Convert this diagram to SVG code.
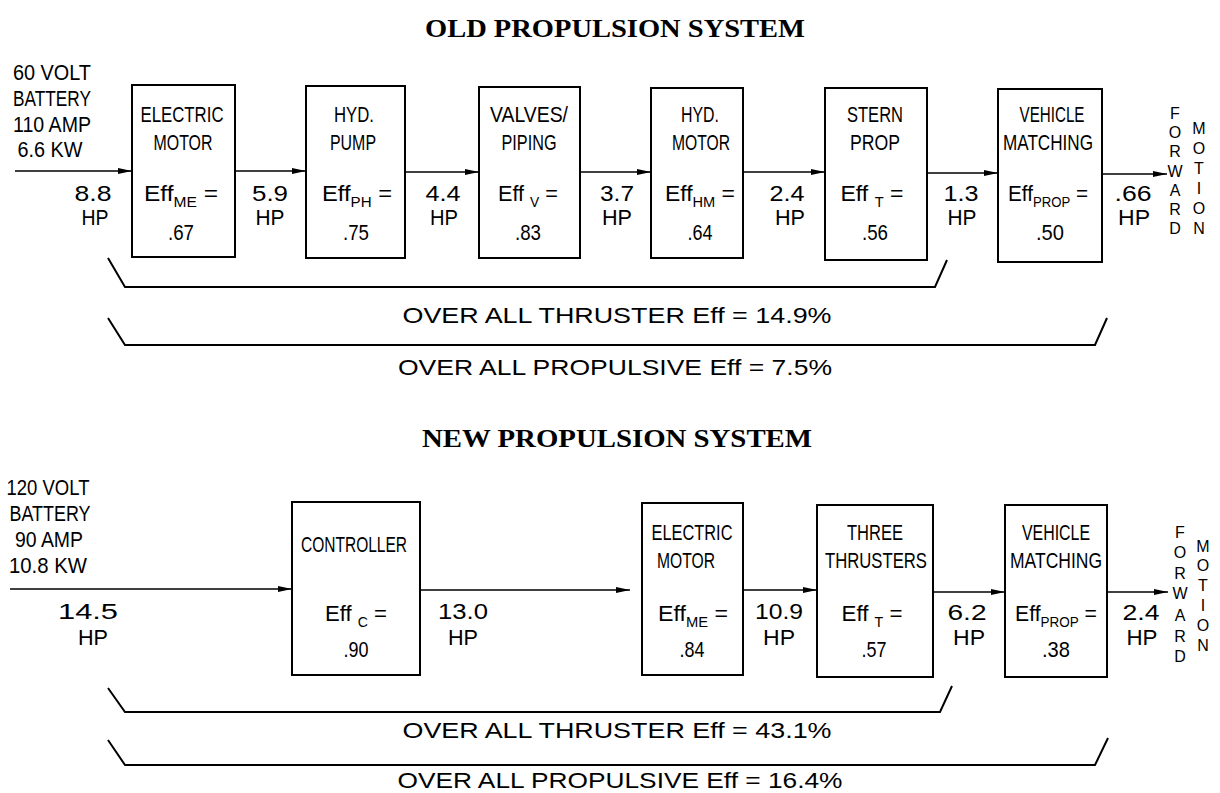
<svg xmlns="http://www.w3.org/2000/svg" width="1220" height="793" viewBox="0 0 1220 793">
<style>
.t{font-family:'Liberation Sans',Arial,sans-serif;font-size:22px;fill:#000;text-anchor:middle}
.s{font-size:14px}
.fm{font-family:'Liberation Sans',Arial,sans-serif;font-size:16px;fill:#000;text-anchor:middle}
.ttl{font-family:'Liberation Serif','Times New Roman',serif;font-weight:bold;font-size:25px;fill:#000;text-anchor:middle}
.box{fill:#fff;stroke:#000;stroke-width:2}
.ln{stroke:#000;stroke-width:1.6;fill:none}
.br{stroke:#000;stroke-width:2;fill:none}
</style>
<defs>
<marker id="ah" markerUnits="userSpaceOnUse" markerWidth="14" markerHeight="8" refX="14" refY="4" orient="auto">
<path d="M0,1 L14,4 L0,7 z" fill="#000"/>
</marker>
</defs>
<rect width="1220" height="793" fill="#fff"/>

<text class="ttl" x="615" y="37" textLength="380" lengthAdjust="spacingAndGlyphs">OLD PROPULSION SYSTEM</text>
<text class="ttl" x="617" y="447" textLength="390" lengthAdjust="spacingAndGlyphs">NEW PROPULSION SYSTEM</text>

<g id="connectors">
<line class="ln" x1="15" y1="171" x2="132" y2="171" marker-end="url(#ah)"/>
<line class="ln" x1="235" y1="171" x2="306" y2="171" marker-end="url(#ah)"/>
<line class="ln" x1="405" y1="172" x2="479" y2="172" marker-end="url(#ah)"/>
<line class="ln" x1="580" y1="172" x2="651" y2="172" marker-end="url(#ah)"/>
<line class="ln" x1="743" y1="172" x2="825" y2="172" marker-end="url(#ah)"/>
<line class="ln" x1="927" y1="173" x2="998" y2="173" marker-end="url(#ah)"/>
<line class="ln" x1="1102" y1="174" x2="1167" y2="174" marker-end="url(#ah)"/>
<line class="ln" x1="10" y1="589" x2="292" y2="589" marker-end="url(#ah)"/>
<line class="ln" x1="420" y1="590" x2="630" y2="590" marker-end="url(#ah)"/>
<line class="ln" x1="743" y1="590" x2="817" y2="590" marker-end="url(#ah)"/>
<line class="ln" x1="933" y1="592" x2="1005" y2="592" marker-end="url(#ah)"/>
<line class="ln" x1="1107" y1="592" x2="1168" y2="592" marker-end="url(#ah)"/>
</g>

<g id="old-battery">
<text class="t" x="52" y="80" textLength="78" lengthAdjust="spacingAndGlyphs">60 VOLT</text>
<text class="t" x="52" y="106" textLength="78" lengthAdjust="spacingAndGlyphs">BATTERY</text>
<text class="t" x="52" y="132" textLength="78" lengthAdjust="spacingAndGlyphs">110 AMP</text>
<text class="t" x="50" y="157" textLength="65" lengthAdjust="spacingAndGlyphs">6.6 KW</text>
<text class="t" x="93" y="201" textLength="37" lengthAdjust="spacingAndGlyphs">8.8</text>
<text class="t" x="95" y="225" textLength="27" lengthAdjust="spacingAndGlyphs">HP</text>
</g>

<g id="old-electric-motor">
<rect class="box" x="132" y="85" width="103" height="172"/>
<text class="t" x="182" y="122" textLength="83" lengthAdjust="spacingAndGlyphs">ELECTRIC</text>
<text class="t" x="183" y="150" textLength="59" lengthAdjust="spacingAndGlyphs">MOTOR</text>
<text class="t" x="181" y="201" textLength="74" lengthAdjust="spacingAndGlyphs">Eff<tspan class="s" dy="6">ME</tspan><tspan dy="-6"> =</tspan></text>
<text class="t" x="181" y="240" textLength="26" lengthAdjust="spacingAndGlyphs">.67</text>
</g>
<g id="old-hp-5-9">
<text class="t" x="270" y="201" textLength="36" lengthAdjust="spacingAndGlyphs">5.9</text>
<text class="t" x="270" y="225" textLength="29" lengthAdjust="spacingAndGlyphs">HP</text>
</g>

<g id="old-hyd-pump">
<rect class="box" x="306" y="86" width="99" height="172"/>
<text class="t" x="354" y="122" textLength="40" lengthAdjust="spacingAndGlyphs">HYD.</text>
<text class="t" x="353" y="150" textLength="46" lengthAdjust="spacingAndGlyphs">PUMP</text>
<text class="t" x="357" y="201" textLength="70" lengthAdjust="spacingAndGlyphs">Eff<tspan class="s" dy="6">PH</tspan><tspan dy="-6"> =</tspan></text>
<text class="t" x="356" y="240" textLength="26" lengthAdjust="spacingAndGlyphs">.75</text>
</g>
<g id="old-hp-4-4">
<text class="t" x="443" y="201" textLength="35" lengthAdjust="spacingAndGlyphs">4.4</text>
<text class="t" x="444" y="225" textLength="28" lengthAdjust="spacingAndGlyphs">HP</text>
</g>

<g id="old-valves">
<rect class="box" x="479" y="87" width="101" height="171"/>
<text class="t" x="529" y="122" textLength="78" lengthAdjust="spacingAndGlyphs">VALVES/</text>
<text class="t" x="529" y="150" textLength="55" lengthAdjust="spacingAndGlyphs">PIPING</text>
<text class="t" x="528" y="201" textLength="60" lengthAdjust="spacingAndGlyphs">Eff <tspan class="s" dy="6">V</tspan><tspan dy="-6"> =</tspan></text>
<text class="t" x="528" y="240" textLength="26" lengthAdjust="spacingAndGlyphs">.83</text>
</g>
<g id="old-hp-3-7">
<text class="t" x="617" y="201" textLength="34" lengthAdjust="spacingAndGlyphs">3.7</text>
<text class="t" x="617" y="225" textLength="30" lengthAdjust="spacingAndGlyphs">HP</text>
</g>

<g id="old-hyd-motor">
<rect class="box" x="651" y="88" width="92" height="170"/>
<text class="t" x="700" y="122" textLength="38" lengthAdjust="spacingAndGlyphs">HYD.</text>
<text class="t" x="701" y="150" textLength="58" lengthAdjust="spacingAndGlyphs">MOTOR</text>
<text class="t" x="700" y="201" textLength="70" lengthAdjust="spacingAndGlyphs">Eff<tspan class="s" dy="6">HM</tspan><tspan dy="-6"> =</tspan></text>
<text class="t" x="700" y="240" textLength="25" lengthAdjust="spacingAndGlyphs">.64</text>
</g>
<g id="old-hp-2-4">
<text class="t" x="787" y="201" textLength="35" lengthAdjust="spacingAndGlyphs">2.4</text>
<text class="t" x="790" y="225" textLength="30" lengthAdjust="spacingAndGlyphs">HP</text>
</g>

<g id="old-stern-prop">
<rect class="box" x="825" y="88" width="102" height="172"/>
<text class="t" x="875" y="122" textLength="56" lengthAdjust="spacingAndGlyphs">STERN</text>
<text class="t" x="875" y="150" textLength="50" lengthAdjust="spacingAndGlyphs">PROP</text>
<text class="t" x="872" y="201" textLength="63" lengthAdjust="spacingAndGlyphs">Eff <tspan class="s" dy="6">T</tspan><tspan dy="-6"> =</tspan></text>
<text class="t" x="875" y="240" textLength="26" lengthAdjust="spacingAndGlyphs">.56</text>
</g>
<g id="old-hp-1-3">
<text class="t" x="961" y="201" textLength="35" lengthAdjust="spacingAndGlyphs">1.3</text>
<text class="t" x="962" y="225" textLength="29" lengthAdjust="spacingAndGlyphs">HP</text>
</g>

<g id="old-vehicle-matching">
<rect class="box" x="998" y="89" width="104" height="173"/>
<text class="t" x="1052" y="122" textLength="65" lengthAdjust="spacingAndGlyphs">VEHICLE</text>
<text class="t" x="1048" y="150" textLength="90" lengthAdjust="spacingAndGlyphs">MATCHING</text>
<text class="t" x="1048" y="201" textLength="80" lengthAdjust="spacingAndGlyphs">Eff<tspan class="s" dy="6">PROP</tspan><tspan dy="-6"> =</tspan></text>
<text class="t" x="1050" y="240" textLength="28" lengthAdjust="spacingAndGlyphs">.50</text>
</g>
<g id="old-hp-066">
<text class="t" x="1133" y="201" textLength="37" lengthAdjust="spacingAndGlyphs">.66</text>
<text class="t" x="1134" y="225" textLength="32" lengthAdjust="spacingAndGlyphs">HP</text>
</g>

<g id="old-forward-motion">
<text class="fm" x="1175" y="119">F</text>
<text class="fm" x="1175" y="138">O</text>
<text class="fm" x="1175" y="157">R</text>
<text class="fm" x="1175" y="177">W</text>
<text class="fm" x="1175" y="196">A</text>
<text class="fm" x="1175" y="215">R</text>
<text class="fm" x="1175" y="234">D</text>
<text class="fm" x="1199" y="134">M</text>
<text class="fm" x="1199" y="154">O</text>
<text class="fm" x="1199" y="174">T</text>
<text class="fm" x="1199" y="194">I</text>
<text class="fm" x="1199" y="214">O</text>
<text class="fm" x="1199" y="234">N</text>
</g>

<g id="old-thruster-eff">
<path class="br" d="M108,258 L125,287 L935,287 L947,260"/>
<text class="t" x="617" y="323" textLength="429" lengthAdjust="spacingAndGlyphs">OVER ALL THRUSTER Eff = 14.9%</text>
</g>
<g id="old-propulsive-eff">
<path class="br" d="M108,318 L125,345 L1095,345 L1107,318"/>
<text class="t" x="615" y="375" textLength="434" lengthAdjust="spacingAndGlyphs">OVER ALL PROPULSIVE Eff = 7.5%</text>
</g>

<g id="new-battery">
<text class="t" x="48" y="495" textLength="83" lengthAdjust="spacingAndGlyphs">120 VOLT</text>
<text class="t" x="50" y="521" textLength="81" lengthAdjust="spacingAndGlyphs">BATTERY</text>
<text class="t" x="49" y="547" textLength="68" lengthAdjust="spacingAndGlyphs">90 AMP</text>
<text class="t" x="48" y="573" textLength="78" lengthAdjust="spacingAndGlyphs">10.8 KW</text>
<text class="t" x="88" y="619" textLength="60" lengthAdjust="spacingAndGlyphs">14.5</text>
<text class="t" x="93" y="645" textLength="30" lengthAdjust="spacingAndGlyphs">HP</text>
</g>

<g id="new-controller">
<rect class="box" x="292" y="502" width="128" height="173"/>
<text class="t" x="354" y="552" textLength="106" lengthAdjust="spacingAndGlyphs">CONTROLLER</text>
<text class="t" x="356" y="621" textLength="62" lengthAdjust="spacingAndGlyphs">Eff <tspan class="s" dy="6">C</tspan><tspan dy="-6"> =</tspan></text>
<text class="t" x="356" y="657" textLength="25" lengthAdjust="spacingAndGlyphs">.90</text>
</g>
<g id="new-hp-13-0">
<text class="t" x="463" y="619" textLength="50" lengthAdjust="spacingAndGlyphs">13.0</text>
<text class="t" x="463" y="645" textLength="30" lengthAdjust="spacingAndGlyphs">HP</text>
</g>

<g id="new-electric-motor">
<rect class="box" x="642" y="503" width="101" height="172"/>
<text class="t" x="692" y="540" textLength="81" lengthAdjust="spacingAndGlyphs">ELECTRIC</text>
<text class="t" x="686" y="568" textLength="58" lengthAdjust="spacingAndGlyphs">MOTOR</text>
<text class="t" x="693" y="621" textLength="70" lengthAdjust="spacingAndGlyphs">Eff<tspan class="s" dy="6">ME</tspan><tspan dy="-6"> =</tspan></text>
<text class="t" x="692" y="657" textLength="25" lengthAdjust="spacingAndGlyphs">.84</text>
</g>
<g id="new-hp-10-9">
<text class="t" x="779" y="619" textLength="48" lengthAdjust="spacingAndGlyphs">10.9</text>
<text class="t" x="779" y="645" textLength="32" lengthAdjust="spacingAndGlyphs">HP</text>
</g>

<g id="new-three-thrusters">
<rect class="box" x="817" y="505" width="116" height="172"/>
<text class="t" x="875" y="540" textLength="56" lengthAdjust="spacingAndGlyphs">THREE</text>
<text class="t" x="876" y="568" textLength="102" lengthAdjust="spacingAndGlyphs">THRUSTERS</text>
<text class="t" x="872" y="621" textLength="61" lengthAdjust="spacingAndGlyphs">Eff <tspan class="s" dy="6">T</tspan><tspan dy="-6"> =</tspan></text>
<text class="t" x="874" y="657" textLength="25" lengthAdjust="spacingAndGlyphs">.57</text>
</g>
<g id="new-hp-6-2">
<text class="t" x="967" y="620" textLength="39" lengthAdjust="spacingAndGlyphs">6.2</text>
<text class="t" x="969" y="645" textLength="32" lengthAdjust="spacingAndGlyphs">HP</text>
</g>

<g id="new-vehicle-matching">
<rect class="box" x="1005" y="505" width="102" height="172"/>
<text class="t" x="1056" y="540" textLength="68" lengthAdjust="spacingAndGlyphs">VEHICLE</text>
<text class="t" x="1056" y="568" textLength="92" lengthAdjust="spacingAndGlyphs">MATCHING</text>
<text class="t" x="1056" y="621" textLength="82" lengthAdjust="spacingAndGlyphs">Eff<tspan class="s" dy="6">PROP</tspan><tspan dy="-6"> =</tspan></text>
<text class="t" x="1056" y="657" textLength="28" lengthAdjust="spacingAndGlyphs">.38</text>
</g>
<g id="new-hp-2-4">
<text class="t" x="1141" y="620" textLength="37" lengthAdjust="spacingAndGlyphs">2.4</text>
<text class="t" x="1142" y="645" textLength="31" lengthAdjust="spacingAndGlyphs">HP</text>
</g>

<g id="new-forward-motion">
<text class="fm" x="1180" y="538">F</text>
<text class="fm" x="1180" y="558">O</text>
<text class="fm" x="1180" y="579">R</text>
<text class="fm" x="1180" y="599">W</text>
<text class="fm" x="1180" y="621">A</text>
<text class="fm" x="1180" y="642">R</text>
<text class="fm" x="1180" y="662">D</text>
<text class="fm" x="1203" y="552">M</text>
<text class="fm" x="1203" y="571">O</text>
<text class="fm" x="1203" y="591">T</text>
<text class="fm" x="1203" y="611">I</text>
<text class="fm" x="1203" y="631">O</text>
<text class="fm" x="1203" y="651">N</text>
</g>

<g id="new-thruster-eff">
<path class="br" d="M108,688 L125,712 L940,712 L952,686"/>
<text class="t" x="617" y="738" textLength="429" lengthAdjust="spacingAndGlyphs">OVER ALL THRUSTER Eff = 43.1%</text>
</g>
<g id="new-propulsive-eff">
<path class="br" d="M108,740 L125,765 L1095,765 L1108,738"/>
<text class="t" x="620" y="788" textLength="445" lengthAdjust="spacingAndGlyphs">OVER ALL PROPULSIVE Eff = 16.4%</text>
</g>
</svg>
